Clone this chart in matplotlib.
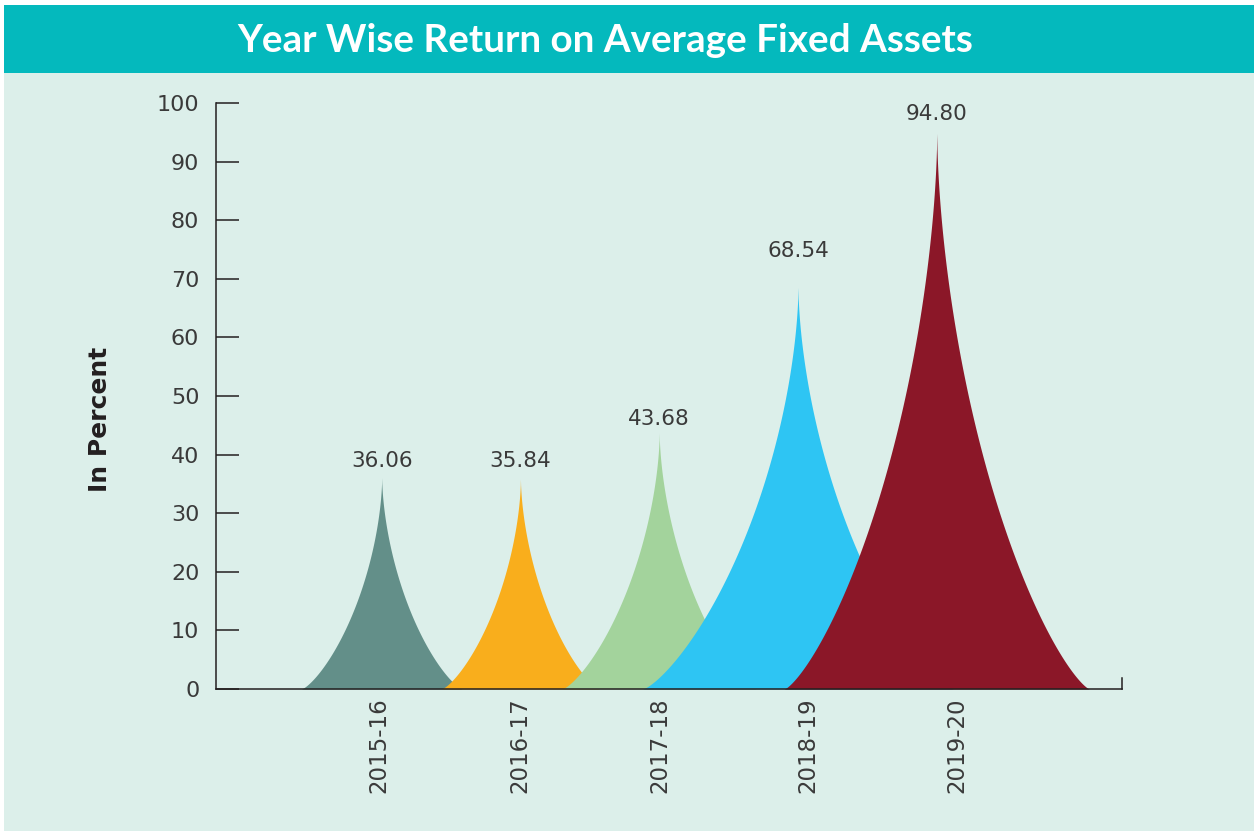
import numpy as np
import matplotlib
matplotlib.use("Agg")
import matplotlib.pyplot as plt
import matplotlib.transforms as mtrans
from matplotlib.patches import Rectangle

# data
years = ["2015-16", "2016-17", "2017-18", "2018-19", "2019-20"]
returns = [36.06, 35.84, 43.68, 68.54, 94.80]
# half base width of each spike, in category units
spike_half_width = [0.58, 0.57, 0.70, 1.12, 1.10]
colors = ["#638F89", "#F9AE1C", "#A3D39C", "#2EC5F3", "#8B1728"]
# how far each value label floats above its peak (pixels)
label_lift = [17, 18, 14, 36, 19]
# the year labels sit slightly right of the spikes (pixels)
year_shift = [-3, -1, 1, 10, 20]

W, H = 1254, 831
BG = "#DCEFEA"
TEAL = "#04B9BD"
INK = "#231F20"
TXT = "#3A3A3A"


def spike(ax, xc, h, w, color, z):
    # concave sided spike: sharp cusp at the top, flattening out at the base
    x = np.linspace(xc - w, xc + w, 1201)
    d = np.abs(x - xc) / w
    y = h * (1 - d ** 0.6) ** 1.3
    ax.fill_between(x, 0, y, color=color, lw=0, zorder=z)


fig = plt.figure(figsize=(W / 100, H / 100), dpi=100, facecolor="white")

# background panel and title band
fig.patches.append(Rectangle((4 / W, 0), 1, (H - 5) / H, transform=fig.transFigure,
                             facecolor=BG, edgecolor="none", zorder=-3))
fig.patches.append(Rectangle((4 / W, (H - 73) / H), 1, 68 / H, transform=fig.transFigure,
                             facecolor=TEAL, edgecolor="none", zorder=-2))
fig.text(605 / W, (H - 40) / H, "Year Wise Return on Average Fixed Assets",
         ha="center", va="center", color="white", fontsize=27.8,
         fontweight="bold", family="Lato")

ax = fig.add_axes([216 / W, (H - 689) / H, (1122 - 216) / W, (689 - 103) / H])
ax.set_facecolor("none")

xs = np.arange(len(years))
for i in range(len(years)):
    spike(ax, xs[i], returns[i], spike_half_width[i], colors[i], 2 + i)
    ax.annotate(f"{returns[i]:.2f}", (xs[i], returns[i]), xytext=(0, label_lift[i] * 0.72),
                textcoords="offset points", ha="center", va="center",
                fontsize=15.5, color=TXT, zorder=10)

ax.set_xlim(-1.194, 5.335)
ax.set_ylim(0, 100)
ax.set_yticks(np.arange(0, 101, 10))
ax.set_xticks(xs)
ax.set_xticklabels(years, rotation=90, fontsize=16.5, color=TXT)
ax.tick_params(axis="y", direction="in", length=16.6, width=1.1, color=INK,
               pad=12, labelsize=16, labelcolor=TXT)
ax.tick_params(axis="x", length=0, pad=6)

for lab, dx in zip(ax.get_xticklabels(), year_shift):
    lab.set_transform(lab.get_transform() +
                      mtrans.ScaledTranslation(dx / 100, 0, fig.dpi_scale_trans))

for s in ["left", "bottom", "right"]:
    ax.spines[s].set_color(INK)
    ax.spines[s].set_linewidth(1.1)
    ax.spines[s].set_zorder(20)
ax.spines["top"].set_visible(False)
ax.spines["right"].set_bounds(0, 1.9)

ax.set_ylabel("In Percent", fontsize=18, fontweight="bold", color=INK)
ax.yaxis.set_label_coords(-0.115, 0.46)

fig.savefig("out.png", dpi=100, facecolor="white")
